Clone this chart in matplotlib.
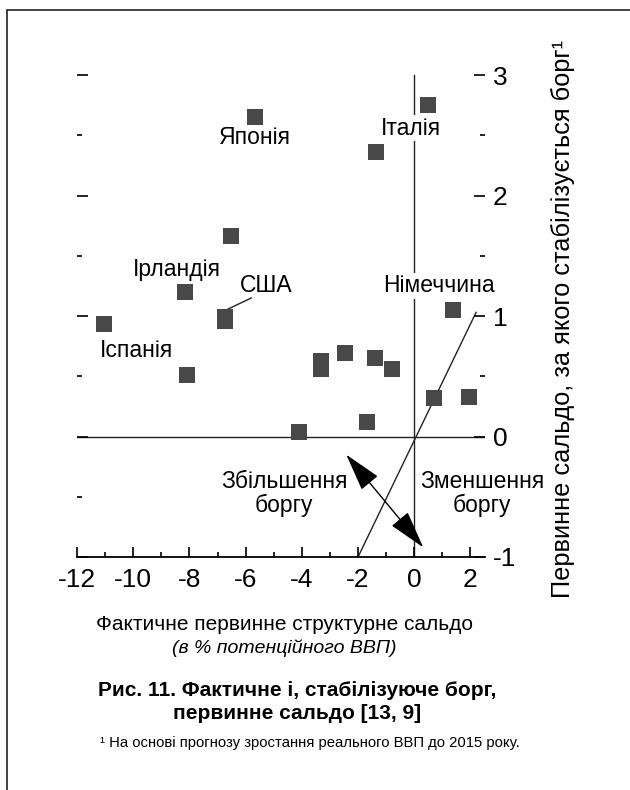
import matplotlib
matplotlib.use("Agg")
import matplotlib.pyplot as plt
from matplotlib.patches import Rectangle
from matplotlib.ticker import MultipleLocator

plt.rcParams['font.family'] = ['Liberation Sans', 'DejaVu Sans']
plt.rcParams['axes.unicode_minus'] = False

# фактичне первинне структурне сальдо (x) та стабілізуюче сальдо (y)
x_vals = [-5.66, 0.50, -1.35, -6.51, -8.15, -6.73, -6.72, -11.03, -8.08,
          -3.33, -3.33, -2.46, -1.39, -0.78, 0.71, 1.96, -1.67, -4.09, 1.39]
y_vals = [2.65, 2.75, 2.36, 1.66, 1.20, 0.99, 0.955, 0.93, 0.51,
          0.63, 0.56, 0.69, 0.65, 0.56, 0.32, 0.33, 0.12, 0.04, 1.05]

# лінія, що розділяє зони збільшення / зменшення боргу
diag_x = [-2.0, 2.2]
diag_y = [-1.0, 1.03]

# підписи країн: (текст, x, y)
country_labels = [
    ("Японія", -5.66, 2.48),
    ("Італія", -0.1, 2.56),
    ("Ірландія", -8.43, 1.39),
    ("США", -5.27, 1.25),
    ("Іспанія", -9.89, 0.71),
    ("Німеччина", 0.89, 1.25),
]
usa_leader_x = [-6.69, -5.8]
usa_leader_y = [1.05, 1.15]

x_ticks = [-12, -10, -8, -6, -4, -2, 0, 2]
y_ticks = [-1, 0, 1, 2, 3]

fig = plt.figure(figsize=(6.3, 7.9), dpi=100)
ax = fig.add_axes([77 / 630, 233 / 790, 407.5 / 630, 488 / 790])

ax.set_xlim(-12, 2.5)
ax.set_ylim(-1, 3.05)

for side in ("top", "left", "right"):
    ax.spines[side].set_visible(False)
ax.spines["bottom"].set_linewidth(1.3)

ax.axhline(0, color="#222222", lw=1.0, zorder=1)
ax.plot([0, 0], [-1, 3.0], color="#222222", lw=1.0, zorder=1)
ax.plot(diag_x, diag_y, color="#222222", lw=1.0, zorder=1)

ax.plot(x_vals, y_vals, "s", color="#484848", markersize=11.5,
        markeredgewidth=0, zorder=3)

white_bg = dict(facecolor="white", edgecolor="none", pad=1)
for txt, tx, ty in country_labels:
    bg = white_bg if txt in ("Італія", "Німеччина") else None
    ax.text(tx, ty, txt, ha="center", va="center", fontsize=16.5,
            bbox=bg, zorder=4)
ax.plot(usa_leader_x, usa_leader_y, color="#222222", lw=1.0, zorder=2)

ax.text(-4.63, -0.47, "Збільшення\nборгу", ha="center", va="center",
        fontsize=16.5, linespacing=1.05)
ax.text(2.42, -0.47, "Зменшення\nборгу", ha="center", va="center",
        fontsize=16.5, linespacing=1.05, bbox=white_bg, zorder=5)

ax.annotate("", xy=(-2.42, -0.15), xytext=(0.32, -0.92),
            arrowprops=dict(arrowstyle="<|-|>,head_length=1.5,head_width=0.42",
                            color="black", lw=1.0, mutation_scale=16,
                            shrinkA=0, shrinkB=0))

ax.set_xticks(x_ticks)
ax.set_xticklabels([str(v) for v in x_ticks])
ax.xaxis.set_minor_locator(MultipleLocator(1))
ax.tick_params(axis="x", which="major", direction="in", length=7, width=1.2,
               labelsize=19, pad=8)
ax.tick_params(axis="x", which="minor", direction="in", length=3.5, width=1.2)

ax.set_yticks(y_ticks)
ax.set_yticklabels([str(v) for v in y_ticks])
ax.yaxis.set_minor_locator(MultipleLocator(0.5))
ax.tick_params(axis="y", which="both", left=True, right=True,
               labelleft=False, labelright=True, direction="in", width=1.2)
ax.tick_params(axis="y", which="major", length=8, labelsize=19, pad=6)
ax.tick_params(axis="y", which="minor", length=3.5)

fig.text(563 / 630, 1 - 319 / 790,
         "Первинне сальдо, за якого стабілізується борг¹",
         rotation=90, ha="center", va="center", fontsize=18.3)

fig.text(284 / 630, 1 - 625 / 790, "Фактичне первинне структурне сальдо",
         ha="center", va="center", fontsize=15)
fig.text(284 / 630, 1 - 648 / 790, "(в % потенційного ВВП)",
         ha="center", va="center", fontsize=14, style="italic")
fig.text(297 / 630, 1 - 702 / 790,
         "Рис. 11. Фактичне і, стабілізуюче борг,\nпервинне сальдо [13, 9]",
         ha="center", va="center", fontsize=15, fontweight="bold",
         linespacing=1.25)
fig.text(100 / 630, 1 - 743 / 790,
         "¹ На основі прогнозу зростання реального ВВП до 2015 року.",
         ha="left", va="center", fontsize=10.7)

fig.add_artist(Rectangle((7 / 630, -0.05), 1.2, 1 - 10 / 790 + 0.05,
                         transform=fig.transFigure, fill=False,
                         edgecolor="#222222", lw=1.2))

fig.savefig("out.png", dpi=100)
